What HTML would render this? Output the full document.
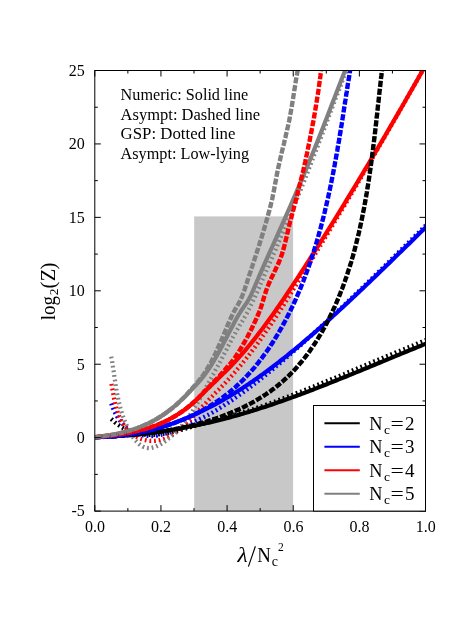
<!DOCTYPE html><html><head><meta charset="utf-8"><style>html,body{margin:0;padding:0;background:#fff}svg{display:block}text{font-family:"Liberation Serif",serif;fill:#000}</style></head><body>
<svg width="475" height="632" viewBox="0 0 475 632">
<rect width="475" height="632" fill="#fff"/>
<defs><clipPath id="c"><rect x="94.8" y="70.5" width="330.7" height="440.6"/></clipPath></defs>
<rect x="194.2" y="216.4" width="98.9" height="294.7" fill="#c8c8c8"/>
<g clip-path="url(#c)" fill="none" stroke-linejoin="round">
<path d="M111.2 418.9 112.5 420.1 113.8 421.2 115.0 422.4 116.3 423.4 117.6 424.4 118.9 425.3 120.2 426.2 121.5 427.0 122.8 427.8 124.2 428.6 125.5 429.3 126.8 429.9 128.2 430.5 129.5 431.1 130.8 431.6 132.2 432.1 133.5 432.5 134.9 432.9 136.2 433.2 137.6 433.6 138.9 433.9 140.3 434.1 141.7 434.3 143.1 434.5 144.4 434.6 145.8 434.7 147.2 434.8 148.6 434.9 150.0 434.9 151.3 434.9 152.8 434.8 154.2 434.8 155.6 434.7 156.9 434.6 158.4 434.4 159.8 434.2 161.2 434.1 162.6 433.9 164.0 433.6 165.4 433.4 166.8 433.1 168.3 432.9 169.7 432.6 171.1 432.3 172.5 431.9 174.0 431.6 175.4 431.3 176.8 430.9 178.3 430.6 179.7 430.2 181.2 429.8 182.6 429.4 184.0 429.0 185.5 428.6 186.9 428.2 188.4 427.8 189.8 427.4 191.2 427.0 192.7 426.6 194.2 426.1 195.6 425.7 197.1 425.3 198.5 424.9 199.9 424.5 201.4 424.1 202.8 423.7 204.3 423.3 205.8 422.9 207.2 422.5 208.7 422.1 210.1 421.6 211.6 421.2 213.0 420.9 214.5 420.5 215.9 420.1 217.4 419.7 218.8 419.3 220.3 418.9 221.7 418.5 223.2 418.1 224.6 417.7 226.1 417.3 227.5 416.9 229.0 416.5 230.4 416.1 231.9 415.6 233.3 415.2 234.8 414.8 236.2 414.4 237.6 414.0 239.1 413.5 240.5 413.1 241.9 412.7 243.4 412.2 244.8 411.8 246.2 411.3 247.7 410.9 249.1 410.4 250.5 410.0 251.9 409.5 253.4 409.1 254.8 408.6 256.2 408.1 257.6 407.6 259.1 407.1 260.5 406.7 261.9 406.2 263.3 405.7 264.7 405.2 266.1 404.7 267.6 404.2 269.0 403.7 270.4 403.2 271.8 402.7 273.2 402.2 274.6 401.7 276.0 401.1 277.4 400.6 278.8 400.1 280.2 399.6 281.6 399.1 283.0 398.5 284.4 398.0 285.9 397.5 287.2 396.9 288.6 396.4 290.1 395.9 291.4 395.3 292.8 394.8 294.2 394.2 295.6 393.7 297.0 393.1 298.4 392.6 299.8 392.0 301.2 391.5 302.6 390.9 304.0 390.4 305.4 389.8 306.8 389.3 308.2 388.7 309.6 388.2 311.0 387.6 312.4 387.1 313.8 386.5 315.1 385.9 316.5 385.4 317.9 384.8 319.3 384.2 320.7 383.7 322.1 383.1 323.5 382.5 324.9 382.0 326.3 381.4 327.6 380.8 329.0 380.3 330.4 379.7 331.8 379.1 333.2 378.6 334.6 378.0 336.0 377.4 337.4 376.8 338.7 376.3 340.1 375.7 341.5 375.1 342.9 374.5 344.3 374.0 345.7 373.4 347.1 372.8 348.4 372.2 349.8 371.7 351.2 371.1 352.6 370.5 354.0 369.9 355.4 369.4 356.8 368.8 358.1 368.2 359.5 367.6 360.9 367.0 362.3 366.4 363.7 365.9 365.1 365.3 366.4 364.7 367.8 364.1 369.2 363.6 370.6 363.0 372.0 362.4 373.4 361.8 374.7 361.2 376.1 360.7 377.5 360.1 378.9 359.5 380.3 358.9 381.7 358.4 383.1 357.8 384.4 357.2 385.8 356.6 387.2 356.0 388.6 355.5 390.0 354.9 391.4 354.3 392.7 353.7 394.1 353.2 395.5 352.6 396.9 352.0 398.3 351.4 399.7 350.9 401.1 350.3 402.4 349.7 403.8 349.2 405.2 348.6 406.6 348.0 408.0 347.4 409.4 346.9 410.8 346.3 412.2 345.8 413.6 345.2 414.9 344.6 416.3 344.1 417.7 343.5 419.1 342.9 420.5 342.4 421.9 341.8 423.3 341.3 424.7 340.7 426.1 340.1 427.5 339.6 428.9 339.0 430.2 338.5" stroke="#000000" stroke-width="4.3" stroke-dasharray="1.8 2.85"/>
<path d="M111.2 403.4 111.8 405.0 112.3 406.6 112.9 408.1 113.6 409.6 114.2 411.1 114.9 412.5 115.7 414.0 116.5 415.4 117.2 416.7 118.1 418.0 118.9 419.3 119.8 420.5 120.7 421.7 121.7 422.8 122.7 423.9 123.6 425.0 124.7 426.0 125.7 426.9 126.8 427.9 127.9 428.7 129.0 429.5 130.1 430.3 131.3 431.0 132.4 431.6 133.6 432.2 134.8 432.8 136.1 433.3 137.3 433.8 138.6 434.2 139.8 434.6 141.1 434.9 142.4 435.2 143.7 435.4 145.1 435.6 146.4 435.8 147.7 435.9 149.1 436.0 150.4 436.0 151.8 436.0 153.2 435.9 154.6 435.8 156.0 435.6 157.4 435.5 158.8 435.2 160.2 435.0 161.6 434.6 163.0 434.3 164.4 433.9 165.8 433.5 167.2 433.1 168.6 432.6 170.1 432.2 171.5 431.7 172.9 431.1 174.3 430.6 175.8 430.0 177.2 429.4 178.6 428.8 180.0 428.2 181.4 427.6 182.9 426.9 184.3 426.3 185.7 425.7 187.1 425.0 188.5 424.4 189.9 423.7 191.3 423.1 192.7 422.4 194.1 421.8 195.5 421.1 196.9 420.5 198.3 419.8 199.7 419.1 201.0 418.5 202.4 417.8 203.8 417.1 205.1 416.4 206.4 415.7 207.8 415.0 209.1 414.3 210.4 413.6 211.8 412.8 213.1 412.1 214.4 411.3 215.7 410.6 217.0 409.8 218.3 409.0 219.5 408.2 220.8 407.4 222.1 406.6 223.4 405.9 224.6 405.0 225.9 404.2 227.2 403.4 228.4 402.6 229.7 401.8 230.9 400.9 232.1 400.1 233.4 399.2 234.6 398.4 235.8 397.5 237.1 396.7 238.3 395.8 239.5 394.9 240.7 394.1 242.0 393.2 243.2 392.3 244.4 391.4 245.6 390.6 246.8 389.7 248.0 388.8 249.2 387.9 250.4 387.0 251.6 386.1 252.8 385.2 254.0 384.2 255.2 383.3 256.4 382.4 257.5 381.5 258.7 380.6 259.9 379.6 261.1 378.7 262.2 377.8 263.4 376.9 264.6 375.9 265.7 375.0 266.9 374.0 268.1 373.1 269.2 372.1 270.4 371.2 271.5 370.2 272.7 369.3 273.9 368.3 275.0 367.4 276.1 366.4 277.3 365.4 278.4 364.5 279.6 363.5 280.7 362.5 281.9 361.6 283.0 360.6 284.1 359.6 285.3 358.6 286.4 357.6 287.6 356.6 288.7 355.7 289.8 354.7 290.9 353.7 292.1 352.7 293.2 351.7 294.3 350.7 295.4 349.7 296.6 348.7 297.7 347.7 298.8 346.7 299.9 345.7 301.1 344.8 302.2 343.8 303.3 342.8 304.4 341.7 305.5 340.7 306.6 339.7 307.8 338.7 308.9 337.7 310.0 336.7 311.1 335.7 312.2 334.7 313.3 333.7 314.4 332.7 315.5 331.7 316.6 330.7 317.7 329.6 318.8 328.6 319.9 327.6 321.1 326.6 322.1 325.6 323.3 324.6 324.4 323.6 325.5 322.5 326.6 321.5 327.7 320.5 328.8 319.5 329.9 318.4 330.9 317.4 332.1 316.4 333.1 315.4 334.2 314.4 335.3 313.3 336.4 312.3 337.5 311.3 338.6 310.2 339.7 309.2 340.8 308.2 341.9 307.2 343.0 306.1 344.1 305.1 345.2 304.1 346.2 303.0 347.3 302.0 348.4 301.0 349.5 299.9 350.6 298.9 351.7 297.9 352.8 296.8 353.9 295.8 354.9 294.8 356.0 293.7 357.1 292.7 358.2 291.6 359.3 290.6 360.3 289.6 361.4 288.5 362.5 287.5 363.6 286.4 364.7 285.4 365.7 284.4 366.8 283.3 367.9 282.3 369.0 281.2 370.1 280.2 371.1 279.1 372.2 278.1 373.3 277.0 374.4 276.0 375.4 274.9 376.5 273.9 377.6 272.9 378.6 271.8 379.7 270.8 380.8 269.7 381.9 268.7 382.9 267.6 384.0 266.6 385.1 265.5 386.2 264.5 387.2 263.4 388.3 262.4 389.4 261.3 390.4 260.3 391.5 259.2 392.6 258.2 393.6 257.1 394.7 256.1 395.8 255.0 396.9 253.9 397.9 252.9 399.0 251.8 400.1 250.8 401.1 249.7 402.2 248.7 403.3 247.6 404.3 246.6 405.4 245.5 406.5 244.5 407.5 243.4 408.6 242.4 409.7 241.3 410.7 240.2 411.8 239.2 412.9 238.1 413.9 237.1 415.0 236.0 416.1 235.0 417.1 233.9 418.2 232.9 419.3 231.8 420.3 230.8 421.4 229.7 422.4 228.6 423.5 227.6 424.6 226.5 425.6 225.5 426.7 224.4 427.8 223.4 428.8 222.3 429.9 221.2" stroke="#0000ff" stroke-width="4.3" stroke-dasharray="1.8 2.85"/>
<path d="M111.5 383.9 111.7 385.2 112.0 386.7 112.2 388.1 112.5 389.6 112.8 391.0 113.0 392.5 113.3 394.0 113.6 395.6 113.8 397.1 114.1 398.6 114.5 400.1 114.8 401.7 115.1 403.2 115.5 404.8 115.9 406.3 116.3 407.8 116.7 409.4 117.2 410.9 117.7 412.4 118.2 413.9 118.8 415.3 119.3 416.8 120.0 418.2 120.6 419.6 121.3 420.9 122.1 422.3 122.8 423.6 123.7 424.8 124.5 426.1 125.4 427.2 126.4 428.4 127.4 429.5 128.4 430.6 129.4 431.6 130.5 432.6 131.6 433.5 132.8 434.4 133.9 435.2 135.1 436.0 136.3 436.7 137.6 437.4 138.8 438.0 140.1 438.6 141.4 439.1 142.7 439.5 144.0 439.9 145.3 440.2 146.7 440.5 148.0 440.7 149.4 440.8 150.7 440.9 152.1 440.9 153.4 440.9 154.8 440.8 156.2 440.6 157.5 440.4 158.8 440.2 160.2 439.9 161.5 439.5 162.8 439.1 164.1 438.7 165.4 438.2 166.7 437.7 167.9 437.1 169.2 436.5 170.4 435.8 171.6 435.1 172.8 434.4 174.0 433.6 175.2 432.9 176.4 432.0 177.6 431.2 178.7 430.3 179.8 429.4 181.0 428.5 182.1 427.5 183.2 426.5 184.4 425.5 185.5 424.5 186.6 423.4 187.7 422.4 188.8 421.3 189.8 420.2 190.9 419.1 192.0 418.0 193.1 416.9 194.1 415.7 195.2 414.6 196.3 413.4 197.3 412.3 198.4 411.1 199.4 410.0 200.5 408.8 201.6 407.7 202.6 406.5 203.7 405.4 204.7 404.2 205.8 403.1 206.8 401.9 207.9 400.8 208.9 399.7 210.0 398.6 211.1 397.5 212.1 396.4 213.2 395.3 214.2 394.2 215.3 393.1 216.4 392.0 217.4 391.0 218.5 389.9 219.5 388.8 220.6 387.7 221.6 386.6 222.7 385.6 223.7 384.5 224.7 383.4 225.8 382.3 226.8 381.2 227.8 380.1 228.8 379.0 229.8 377.9 230.8 376.8 231.8 375.7 232.8 374.6 233.8 373.5 234.8 372.3 235.8 371.2 236.7 370.1 237.7 368.9 238.7 367.8 239.6 366.6 240.6 365.5 241.5 364.4 242.5 363.2 243.4 362.0 244.3 360.9 245.3 359.7 246.2 358.5 247.1 357.4 248.1 356.2 249.0 355.0 249.9 353.8 250.8 352.6 251.7 351.4 252.6 350.2 253.5 349.1 254.4 347.9 255.3 346.6 256.2 345.4 257.1 344.2 257.9 343.0 258.8 341.8 259.7 340.6 260.6 339.4 261.4 338.2 262.3 336.9 263.1 335.7 264.0 334.5 264.9 333.2 265.7 332.0 266.6 330.8 267.4 329.6 268.3 328.3 269.1 327.1 269.9 325.8 270.8 324.6 271.6 323.3 272.4 322.1 273.3 320.8 274.1 319.6 274.9 318.3 275.8 317.1 276.6 315.8 277.4 314.6 278.2 313.3 279.0 312.1 279.9 310.8 280.7 309.5 281.5 308.3 282.3 307.0 283.1 305.7 283.9 304.5 284.7 303.2 285.5 301.9 286.3 300.7 287.1 299.4 287.9 298.1 288.7 296.9 289.5 295.6 290.3 294.3 291.1 293.0 291.9 291.8 292.7 290.5 293.5 289.2 294.3 287.9 295.1 286.7 295.9 285.4 296.7 284.1 297.5 282.8 298.3 281.6 299.1 280.3 299.9 279.0 300.6 277.7 301.4 276.4 302.2 275.2 303.0 273.9 303.8 272.6 304.6 271.3 305.4 270.1 306.2 268.8 307.0 267.5 307.8 266.2 308.5 264.9 309.3 263.7 310.1 262.4 310.9 261.1 311.7 259.8 312.5 258.6 313.2 257.3 314.0 256.0 314.8 254.7 315.6 253.4 316.4 252.2 317.2 250.9 317.9 249.6 318.7 248.3 319.5 247.0 320.3 245.7 321.1 244.5 321.9 243.2 322.6 241.9 323.4 240.6 324.2 239.3 325.0 238.1 325.7 236.8 326.5 235.5 327.3 234.2 328.1 232.9 328.8 231.6 329.6 230.3 330.4 229.1 331.2 227.8 331.9 226.5 332.7 225.2 333.5 223.9 334.3 222.6 335.0 221.3 335.8 220.1 336.6 218.8 337.3 217.5 338.1 216.2 338.9 214.9 339.6 213.6 340.4 212.3 341.2 211.1 342.0 209.8 342.7 208.5 343.5 207.2 344.3 205.9 345.0 204.6 345.8 203.3 346.6 202.1 347.3 200.8 348.1 199.5 348.9 198.2 349.6 196.9 350.4 195.6 351.2 194.3 351.9 193.0 352.7 191.7 353.4 190.4 354.2 189.2 355.0 187.9 355.7 186.6 356.5 185.3 357.3 184.0 358.0 182.7 358.8 181.4 359.5 180.1 360.3 178.8 361.1 177.5 361.8 176.2 362.6 174.9 363.3 173.7 364.1 172.4 364.9 171.1 365.6 169.8 366.4 168.5 367.1 167.2 367.9 165.9 368.6 164.6 369.4 163.3 370.1 162.0 370.9 160.7 371.7 159.4 372.4 158.1 373.2 156.8 373.9 155.5 374.7 154.2 375.4 152.9 376.2 151.7 376.9 150.3 377.7 149.1 378.4 147.8 379.2 146.5 379.9 145.2 380.7 143.9 381.5 142.6 382.2 141.3 383.0 140.0 383.7 138.7 384.5 137.4 385.2 136.1 386.0 134.8 386.7 133.5 387.5 132.2 388.2 130.9 389.0 129.6 389.7 128.3 390.5 127.0 391.2 125.7 391.9 124.4 392.7 123.1 393.4 121.8 394.2 120.5 394.9 119.2 395.7 117.9 396.4 116.6 397.2 115.3 397.9 114.0 398.7 112.7 399.4 111.4 400.2 110.1 400.9 108.8 401.7 107.5 402.4 106.2 403.1 104.9 403.9 103.6 404.6 102.3 405.4 101.0 406.1 99.7 406.9 98.3 407.6 97.0 408.4 95.7 409.1 94.4 409.8 93.1 410.6 91.8 411.3 90.5 412.1 89.2 412.8 87.9 413.6 86.6 414.3 85.3 415.0 84.0 415.8 82.7 416.5 81.4 417.2 80.1 418.0 78.8 418.7 77.5 419.5 76.2 420.2 74.8 420.9 73.5 421.7 72.2 422.4 70.9 423.2 69.6 423.9 68.3 424.6 67.0 425.4 65.7 426.1 64.4 426.9 63.1 427.6 61.8 428.3 60.5 429.1 59.1 429.8 57.8 430.6 56.5" stroke="#ff0000" stroke-width="4.3" stroke-dasharray="1.8 2.85"/>
<path d="M111.3 356.6 111.5 358.1 111.8 359.6 112.1 361.1 112.3 362.6 112.5 364.1 112.8 365.5 113.0 367.0 113.2 368.5 113.5 370.0 113.7 371.5 113.9 372.9 114.1 374.4 114.3 375.9 114.5 377.4 114.7 378.8 115.0 380.3 115.2 381.8 115.4 383.2 115.6 384.7 115.8 386.1 116.1 387.6 116.3 389.1 116.6 390.5 116.8 392.0 117.1 393.4 117.4 394.9 117.7 396.3 118.0 397.8 118.3 399.2 118.6 400.7 118.9 402.1 119.3 403.6 119.7 405.1 120.0 406.5 120.4 408.0 120.8 409.4 121.3 410.9 121.7 412.4 122.2 413.9 122.7 415.3 123.2 416.8 123.8 418.3 124.3 419.8 124.9 421.3 125.5 422.8 126.1 424.2 126.8 425.7 127.5 427.2 128.2 428.7 128.9 430.2 129.7 431.6 130.4 433.0 131.2 434.4 132.1 435.7 132.9 437.0 133.8 438.3 134.7 439.5 135.7 440.6 136.6 441.7 137.6 442.7 138.6 443.6 139.6 444.5 140.7 445.3 141.8 446.0 142.9 446.6 144.0 447.1 145.1 447.5 146.3 447.8 147.5 448.0 148.8 448.1 150.0 448.0 151.3 447.9 152.6 447.6 153.9 447.3 155.2 446.9 156.5 446.3 157.8 445.7 159.2 445.1 160.5 444.3 161.8 443.5 163.1 442.7 164.5 441.8 165.8 440.8 167.1 439.8 168.3 438.8 169.6 437.8 170.8 436.7 172.0 435.7 173.2 434.6 174.3 433.5 175.5 432.4 176.6 431.3 177.7 430.2 178.7 429.1 179.7 427.9 180.8 426.8 181.8 425.7 182.7 424.5 183.7 423.4 184.6 422.2 185.5 421.0 186.4 419.8 187.3 418.6 188.2 417.4 189.0 416.2 189.8 415.0 190.7 413.8 191.5 412.6 192.3 411.4 193.1 410.2 193.8 408.9 194.6 407.7 195.4 406.4 196.1 405.2 196.9 403.9 197.6 402.7 198.3 401.4 199.1 400.1 199.8 398.9 200.5 397.6 201.2 396.3 201.9 395.0 202.7 393.7 203.4 392.4 204.1 391.1 204.8 389.9 205.5 388.6 206.2 387.2 206.9 385.9 207.7 384.6 208.4 383.3 209.1 382.0 209.8 380.7 210.5 379.4 211.2 378.1 211.9 376.8 212.6 375.4 213.4 374.1 214.1 372.8 214.8 371.5 215.5 370.1 216.2 368.8 217.0 367.5 217.7 366.2 218.4 364.8 219.2 363.5 219.9 362.2 220.6 360.9 221.3 359.6 222.0 358.2 222.7 356.9 223.4 355.6 224.0 354.3 224.7 352.9 225.4 351.6 226.1 350.3 226.8 349.0 227.4 347.7 228.1 346.3 228.8 345.0 229.5 343.7 230.2 342.4 230.9 341.1 231.6 339.8 232.3 338.4 233.0 337.1 233.7 335.8 234.4 334.5 235.2 333.2 235.9 331.8 236.7 330.5 237.5 329.2 238.3 327.9 239.1 326.6 239.8 325.2 240.6 323.9 241.4 322.6 242.2 321.3 243.0 319.9 243.8 318.6 244.5 317.3 245.3 315.9 246.0 314.6 246.8 313.3 247.5 312.0 248.2 310.6 248.9 309.3 249.6 308.0 250.3 306.6 250.9 305.3 251.6 303.9 252.3 302.6 252.9 301.3 253.5 299.9 254.2 298.6 254.8 297.2 255.4 295.9 256.0 294.6 256.6 293.2 257.2 291.9 257.8 290.5 258.4 289.1 259.0 287.8 259.5 286.4 260.1 285.1 260.7 283.7 261.3 282.4 261.9 281.0 262.5 279.7 263.1 278.3 263.7 277.0 264.2 275.6 264.9 274.2 265.4 272.9 266.0 271.5 266.6 270.2 267.2 268.8 267.8 267.4 268.4 266.1 269.0 264.7 269.6 263.3 270.2 262.0 270.8 260.6 271.4 259.2 272.0 257.9 272.6 256.5 273.2 255.1 273.8 253.7 274.4 252.4 275.0 251.0 275.6 249.6 276.1 248.2 276.8 246.9 277.3 245.5 277.9 244.1 278.5 242.7 279.1 241.3 279.7 240.0 280.3 238.6 280.9 237.2 281.5 235.8 282.1 234.4 282.7 233.1 283.3 231.7 283.9 230.3 284.4 228.9 285.0 227.5 285.6 226.2 286.2 224.8 286.8 223.4 287.4 222.0 287.9 220.6 288.5 219.2 289.1 217.8 289.7 216.4 290.3 215.0 290.9 213.7 291.4 212.3 292.0 210.9 292.6 209.5 293.2 208.1 293.7 206.7 294.3 205.3 294.9 203.9 295.5 202.5 296.0 201.1 296.6 199.7 297.2 198.3 297.7 196.9 298.3 195.5 298.9 194.1 299.4 192.8 300.0 191.3 300.6 189.9 301.1 188.6 301.7 187.2 302.2 185.8 302.8 184.4 303.4 183.0 303.9 181.6 304.5 180.2 305.0 178.8 305.6 177.4 306.1 176.0 306.7 174.6 307.2 173.2 307.8 171.8 308.3 170.4 308.9 169.0 309.4 167.6 309.9 166.2 310.5 164.8 311.0 163.4 311.6 161.9 312.1 160.6 312.6 159.2 313.2 157.8 313.7 156.3 314.3 154.9 314.8 153.5 315.3 152.1 315.9 150.7 316.4 149.3 316.9 147.9 317.5 146.5 318.0 145.1 318.5 143.7 319.1 142.3 319.6 140.9 320.1 139.5 320.7 138.1 321.2 136.7 321.7 135.3 322.3 133.9 322.8 132.5 323.3 131.1 323.9 129.7 324.4 128.3 324.9 126.9 325.4 125.5 326.0 124.1 326.5 122.7 327.0 121.3 327.6 119.9 328.1 118.5 328.6 117.1 329.1 115.7 329.7 114.3 330.2 112.9 330.7 111.5 331.3 110.1 331.8 108.7 332.3 107.3 332.9 105.9 333.4 104.5 333.9 103.1 334.5 101.7 335.0 100.3 335.5 98.9 336.1 97.5 336.6 96.1 337.1 94.7 337.7 93.3 338.2 91.9 338.7 90.5 339.3 89.1 339.8 87.7 340.3 86.3 340.9 84.9 341.4 83.5 341.9 82.1 342.5 80.7 343.0 79.3 343.6 77.9 344.1 76.5 344.7 75.2 345.2 73.8 345.8 72.4 346.3 71.0 346.8 69.6 347.4 68.2 347.9 66.8 348.5 65.4 349.0 64.0 349.6 62.6 350.1 61.2 350.7 59.9 351.2 58.5 351.8 57.1 352.4 55.7 352.9 54.3" stroke="#808080" stroke-width="4.3" stroke-dasharray="1.8 2.85"/>
<path d="M94.8 437.1 96.8 437.1 98.8 437.0 100.8 436.9 102.8 436.8 104.8 436.7 106.8 436.6 108.8 436.5 110.8 436.4 112.8 436.3 114.8 436.2 116.8 436.0 118.8 435.9 120.8 435.8 122.8 435.6 124.8 435.4 126.8 435.3 128.8 435.1 130.8 434.9 132.8 434.8 134.8 434.6 136.8 434.4 138.8 434.1 140.8 433.9 142.8 433.7 144.8 433.5 146.8 433.3 148.8 433.0 150.8 432.8 152.8 432.5 154.8 432.3 156.8 432.0 158.8 431.7 160.8 431.4 162.8 431.2 164.8 430.9 166.8 430.6 168.8 430.3 170.8 429.9 172.8 429.6 174.8 429.3 176.8 428.9 178.8 428.6 180.8 428.3 182.8 427.9 184.8 427.5 186.8 427.2 188.8 426.8 190.8 426.4 192.8 426.0 194.8 425.6 196.8 425.2 198.8 424.8 200.8 424.3 202.8 423.9 204.8 423.5 206.8 423.0 208.8 422.6 210.8 422.1 212.8 421.6 214.8 421.2 216.8 420.7 218.8 420.2 220.8 419.7 222.8 419.2 224.8 418.7 226.8 418.1 228.8 417.6 230.8 417.1 232.8 416.5 234.8 416.0 236.8 415.4 238.8 414.9 240.8 414.3 242.8 413.7 244.8 413.1 246.8 412.5 248.8 411.9 250.8 411.3 252.8 410.7 254.8 410.1 256.8 409.4 258.8 408.8 260.8 408.1 262.8 407.5 264.8 406.9 266.8 406.2 268.8 405.5 270.8 404.9 272.8 404.2 274.8 403.5 276.8 402.8 278.8 402.1 280.8 401.4 282.8 400.7 284.8 400.0 286.8 399.3 288.8 398.6 290.8 397.9 292.8 397.1 294.8 396.4 296.8 395.7 298.8 394.9 300.8 394.2 302.8 393.4 304.8 392.7 306.8 391.9 308.8 391.2 310.8 390.4 312.8 389.7 314.8 388.9 316.8 388.1 318.8 387.3 320.8 386.6 322.8 385.8 324.8 385.0 326.8 384.2 328.8 383.4 330.8 382.6 332.8 381.8 334.8 381.0 336.8 380.2 338.8 379.4 340.8 378.6 342.8 377.8 344.8 377.0 346.8 376.2 348.8 375.4 350.8 374.6 352.8 373.7 354.8 372.9 356.8 372.1 358.8 371.3 360.8 370.5 362.8 369.6 364.8 368.8 366.8 368.0 368.8 367.2 370.8 366.3 372.8 365.5 374.8 364.7 376.8 363.9 378.8 363.0 380.8 362.2 382.8 361.4 384.8 360.6 386.8 359.7 388.8 358.9 390.8 358.1 392.8 357.2 394.8 356.4 396.8 355.6 398.8 354.8 400.8 353.9 402.8 353.1 404.8 352.3 406.8 351.5 408.8 350.6 410.8 349.8 412.8 349.0 414.8 348.2 416.8 347.4 418.8 346.6 420.8 345.8 422.8 344.9 424.8 344.1 426.8 343.3 428.8 342.5" stroke="#000000" stroke-width="4.2"/>
<path d="M94.8 437.1 96.8 437.1 98.8 437.1 100.8 437.0 102.8 437.0 104.8 436.9 106.8 436.8 108.8 436.7 110.8 436.6 112.8 436.4 114.8 436.3 116.8 436.1 118.8 435.9 120.8 435.7 122.8 435.4 124.8 435.2 126.8 434.9 128.8 434.6 130.8 434.3 132.8 433.9 134.8 433.6 136.8 433.2 138.8 432.8 140.8 432.4 142.8 432.0 144.8 431.5 146.8 431.1 148.8 430.6 150.8 430.1 152.8 429.6 154.8 429.0 156.8 428.5 158.8 427.9 160.8 427.3 162.8 426.7 164.8 426.1 166.8 425.4 168.8 424.8 170.8 424.1 172.8 423.4 174.8 422.6 176.8 421.9 178.8 421.1 180.8 420.4 182.8 419.6 184.8 418.8 186.8 417.9 188.8 417.1 190.8 416.2 192.8 415.4 194.8 414.5 196.8 413.6 198.8 412.6 200.8 411.7 202.8 410.7 204.8 409.7 206.8 408.7 208.8 407.7 210.8 406.7 212.8 405.6 214.8 404.6 216.8 403.5 218.8 402.4 220.8 401.3 222.8 400.1 224.8 399.0 226.8 397.8 228.8 396.6 230.8 395.4 232.8 394.2 234.8 393.0 236.8 391.7 238.8 390.5 240.8 389.2 242.8 387.9 244.8 386.6 246.8 385.2 248.8 383.9 250.8 382.5 252.8 381.2 254.8 379.8 256.8 378.4 258.8 377.0 260.8 375.5 262.8 374.1 264.8 372.6 266.8 371.2 268.8 369.7 270.8 368.2 272.8 366.7 274.8 365.1 276.8 363.6 278.8 362.1 280.8 360.5 282.8 358.9 284.8 357.4 286.8 355.8 288.8 354.1 290.8 352.5 292.8 350.9 294.8 349.3 296.8 347.6 298.8 346.0 300.8 344.3 302.8 342.6 304.8 340.9 306.8 339.2 308.8 337.5 310.8 335.8 312.8 334.1 314.8 332.3 316.8 330.6 318.8 328.8 320.8 327.1 322.8 325.3 324.8 323.5 326.8 321.7 328.8 319.9 330.8 318.1 332.8 316.3 334.8 314.5 336.8 312.7 338.8 310.8 340.8 309.0 342.8 307.2 344.8 305.3 346.8 303.4 348.8 301.6 350.8 299.7 352.8 297.8 354.8 296.0 356.8 294.1 358.8 292.2 360.8 290.3 362.8 288.4 364.8 286.5 366.8 284.6 368.8 282.7 370.8 280.8 372.8 278.8 374.8 276.9 376.8 275.0 378.8 273.1 380.8 271.1 382.8 269.2 384.8 267.3 386.8 265.3 388.8 263.4 390.8 261.4 392.8 259.5 394.8 257.5 396.8 255.6 398.8 253.6 400.8 251.7 402.8 249.7 404.8 247.8 406.8 245.8 408.8 243.9 410.8 241.9 412.8 240.0 414.8 238.0 416.8 236.1 418.8 234.1 420.8 232.1 422.8 230.2 424.8 228.2 426.8 226.3 428.8 224.3" stroke="#0000ff" stroke-width="4.2"/>
<path d="M94.8 437.2 96.8 437.0 98.8 436.8 100.8 436.6 102.8 436.4 104.8 436.2 106.8 435.9 108.8 435.7 110.8 435.5 112.8 435.2 114.8 435.0 116.8 434.7 118.8 434.5 120.8 434.2 122.8 433.9 124.8 433.6 126.8 433.2 128.8 432.9 130.8 432.5 132.8 432.1 134.8 431.6 136.8 431.2 138.8 430.7 140.8 430.2 142.8 429.7 144.8 429.1 146.8 428.6 148.8 427.9 150.8 427.3 152.8 426.6 154.8 425.9 156.8 425.1 158.8 424.3 160.8 423.4 162.8 422.5 164.8 421.6 166.8 420.6 168.8 419.6 170.8 418.5 172.8 417.4 174.8 416.3 176.8 415.0 178.8 413.8 180.8 412.4 182.8 411.1 184.8 409.6 186.8 408.1 188.8 406.5 190.8 404.9 192.8 403.2 194.8 401.4 196.8 399.5 198.8 397.6 200.8 395.6 202.8 393.6 204.8 391.6 206.8 389.6 208.8 387.7 210.8 385.7 212.8 383.8 214.8 381.9 216.8 379.9 218.8 378.0 220.8 376.1 222.8 374.1 224.8 372.2 226.8 370.2 228.8 368.2 230.8 366.2 232.8 364.1 234.8 362.0 236.8 359.8 238.8 357.6 240.8 355.4 242.8 353.1 244.8 350.8 246.8 348.4 248.8 346.0 250.8 343.6 252.8 341.1 254.8 338.6 256.8 336.0 258.8 333.4 260.8 330.8 262.8 328.2 264.8 325.5 266.8 322.8 268.8 320.0 270.8 317.3 272.8 314.5 274.8 311.7 276.8 308.8 278.8 305.9 280.8 303.0 282.8 300.1 284.8 297.2 286.8 294.2 288.8 291.2 290.8 288.2 292.8 285.2 294.8 282.2 296.8 279.2 298.8 276.1 300.8 273.0 302.8 269.9 304.8 266.8 306.8 263.7 308.8 260.6 310.8 257.5 312.8 254.3 314.8 251.2 316.8 248.0 318.8 244.9 320.8 241.7 322.8 238.5 324.8 235.3 326.8 232.1 328.8 228.9 330.8 225.7 332.8 222.5 334.8 219.3 336.8 216.0 338.8 212.8 340.8 209.5 342.8 206.3 344.8 203.0 346.8 199.7 348.8 196.4 350.8 193.2 352.8 189.9 354.8 186.6 356.8 183.2 358.8 179.9 360.8 176.6 362.8 173.3 364.8 169.9 366.8 166.6 368.8 163.2 370.8 159.9 372.8 156.5 374.8 153.1 376.8 149.8 378.8 146.4 380.8 143.0 382.8 139.6 384.8 136.2 386.8 132.8 388.8 129.3 390.8 125.9 392.8 122.5 394.8 119.0 396.8 115.6 398.8 112.1 400.8 108.7 402.8 105.2 404.8 101.7 406.8 98.3 408.8 94.8 410.8 91.3 412.8 87.8 414.8 84.3 416.8 80.8 418.8 77.3 420.8 73.8 422.8 70.2 424.8 66.7 426.8 63.2 428.8 59.6" stroke="#ff0000" stroke-width="4.2"/>
<path d="M94.8 437.2 96.8 437.0 98.8 436.8 100.8 436.5 102.8 436.2 104.8 435.9 106.8 435.6 108.8 435.3 110.8 435.0 112.8 434.6 114.8 434.3 116.8 433.9 118.8 433.4 120.8 433.0 122.8 432.5 124.8 432.0 126.8 431.5 128.8 430.9 130.8 430.3 132.8 429.6 134.8 429.0 136.8 428.3 138.8 427.5 140.8 426.7 142.8 425.9 144.8 425.0 146.8 424.1 148.8 423.2 150.8 422.2 152.8 421.1 154.8 420.0 156.8 418.9 158.8 417.6 160.8 416.4 162.8 415.1 164.8 413.7 166.8 412.3 168.8 410.8 170.8 409.3 172.8 407.7 174.8 406.0 176.8 404.3 178.8 402.5 180.8 400.6 182.8 398.7 184.8 396.8 186.8 394.7 188.8 392.6 190.8 390.5 192.8 388.4 194.8 386.2 196.8 384.1 198.8 381.8 200.8 379.5 202.8 377.1 204.8 374.6 206.8 371.8 208.8 369.0 210.8 365.9 212.8 362.7 214.8 359.3 216.8 355.8 218.8 352.2 220.8 348.5 222.8 344.8 224.8 340.9 226.8 337.0 228.8 333.1 230.8 329.2 232.8 325.4 234.8 321.6 236.8 318.0 238.8 314.5 240.8 311.3 242.8 308.4 244.8 305.5 246.8 302.6 248.8 299.2 250.8 295.4 252.8 291.0 254.8 286.4 256.8 281.7 258.8 277.0 260.8 272.4 262.8 267.8 264.8 263.3 266.8 258.9 268.8 254.4 270.8 249.9 272.8 245.5 274.8 241.0 276.8 236.6 278.8 232.1 280.8 227.6 282.8 223.1 284.8 218.6 286.8 214.1 288.8 209.5 290.8 205.0 292.8 200.4 294.8 195.8 296.8 191.2 298.8 186.5 300.8 181.8 302.8 177.1 304.8 172.3 306.8 167.6 308.8 162.8 310.8 157.9 312.8 153.0 314.8 148.1 316.8 143.1 318.8 138.1 320.8 133.0 322.8 127.9 324.8 122.8 326.8 117.7 328.8 112.5 330.8 107.3 332.8 102.1 334.8 96.9 336.8 91.7 338.8 86.6 340.8 81.4 342.8 76.3 344.8 71.2 346.8 66.1 348.8 61.0 350.8 56.0" stroke="#808080" stroke-width="4.2"/>
<path d="M95.0 437.2 96.9 437.1 98.9 437.0 100.9 436.9 102.8 436.8 104.8 436.7 106.8 436.6 108.8 436.5 110.8 436.4 112.7 436.2 114.7 436.1 116.7 436.0 118.7 435.9 120.7 435.7 122.7 435.6 124.7 435.4 126.7 435.3 128.7 435.1 130.6 435.0 132.6 434.8 134.6 434.6 136.6 434.4 138.6 434.2 140.6 434.0 142.6 433.8 144.6 433.6 146.6 433.4 148.6 433.1 150.6 432.9 152.6 432.6 154.6 432.4 156.6 432.1 158.6 431.8 160.6 431.5 162.6 431.2 164.6 430.9 166.6 430.6 168.6 430.2 170.6 429.9 172.6 429.5 174.6 429.1 176.6 428.8 178.6 428.4 180.5 427.9 182.5 427.5 184.5 427.1 186.5 426.7 188.5 426.2 190.4 425.7 192.4 425.3 194.4 424.8 196.3 424.3 198.3 423.8 200.2 423.2 202.2 422.7 204.2 422.1 206.1 421.6 208.0 421.0 209.9 420.4 211.9 419.8 213.8 419.1 215.7 418.5 217.6 417.9 219.5 417.2 221.4 416.5 223.3 415.8 225.1 415.1 227.0 414.4 228.9 413.6 230.7 412.9 232.6 412.1 234.4 411.3 236.2 410.5 238.0 409.7 239.8 408.9 241.6 408.1 243.4 407.2 245.2 406.3 246.9 405.4 248.7 404.5 250.4 403.6 252.2 402.6 253.9 401.7 255.6 400.7 257.3 399.7 259.0 398.7 260.6 397.7 262.3 396.7 263.9 395.6 265.6 394.5 267.2 393.4 268.8 392.3 270.4 391.2 271.9 390.0 273.5 388.9 275.1 387.7 276.6 386.5 278.1 385.3 279.6 384.0 281.1 382.8 282.6 381.5 284.0 380.2 285.4 378.9 286.9 377.6 288.3 376.2 289.6 374.9 291.0 373.5 292.4 372.1 293.7 370.7 295.1 369.2 296.4 367.8 297.7 366.3 298.9 364.8 300.2 363.3 301.5 361.8 302.7 360.3 303.9 358.8 305.1 357.2 306.3 355.6 307.5 354.1 308.7 352.5 309.8 350.9 310.9 349.3 312.1 347.6 313.2 346.0 314.3 344.3 315.4 342.7 316.4 341.0 317.5 339.3 318.5 337.6 319.5 335.9 320.6 334.2 321.6 332.5 322.6 330.8 323.5 329.0 324.5 327.3 325.4 325.5 326.4 323.8 327.3 322.0 328.2 320.2 329.1 318.4 330.0 316.6 330.9 314.8 331.8 313.0 332.6 311.2 333.4 309.4 334.3 307.6 335.1 305.8 335.9 303.9 336.7 302.1 337.5 300.2 338.3 298.4 339.0 296.5 339.8 294.7 340.5 292.8 341.2 290.9 342.0 289.1 342.7 287.2 343.4 285.3 344.1 283.4 344.8 281.5 345.4 279.6 346.1 277.7 346.8 275.8 347.4 273.9 348.0 271.9 348.6 270.0 349.3 268.1 349.9 266.1 350.5 264.2 351.1 262.3 351.6 260.3 352.2 258.4 352.8 256.4 353.3 254.5 353.9 252.5 354.4 250.6 354.9 248.6 355.4 246.6 355.9 244.6 356.4 242.7 356.9 240.7 357.4 238.7 357.9 236.7 358.4 234.7 358.9 232.8 359.3 230.8 359.8 228.8 360.2 226.8 360.6 224.8 361.1 222.8 361.5 220.8 361.9 218.8 362.3 216.8 362.7 214.8 363.1 212.7 363.5 210.7 363.9 208.7 364.3 206.7 364.6 204.7 365.0 202.7 365.4 200.7 365.7 198.6 366.1 196.6 366.4 194.6 366.8 192.6 367.1 190.6 367.4 188.5 367.8 186.5 368.1 184.5 368.4 182.5 368.7 180.5 369.0 178.4 369.3 176.4 369.6 174.4 369.9 172.4 370.2 170.3 370.5 168.3 370.8 166.3 371.0 164.3 371.3 162.3 371.6 160.2 371.9 158.2 372.1 156.2 372.4 154.2 372.6 152.2 372.9 150.2 373.1 148.2 373.4 146.2 373.6 144.2 373.9 142.1 374.1 140.1 374.4 138.1 374.6 136.1 374.8 134.1 375.1 132.1 375.3 130.1 375.5 128.2 375.7 126.2 376.0 124.2 376.2 122.2 376.4 120.2 376.6 118.2 376.9 116.2 377.1 114.3 377.3 112.3 377.5 110.3 377.7 108.4 377.9 106.4 378.1 104.5 378.4 102.5 378.6 100.6 378.8 98.6 379.0 96.7 379.2 94.7 379.4 92.8 379.6 90.9 379.9 88.9 380.1 87.0 380.3 85.1 380.5 83.2 380.7 81.3 380.9 79.4 381.1 77.5 381.4 75.6 381.6 73.7 381.8 71.8 382.0 69.9 382.2 68.0 382.5 66.2 382.7 64.3 382.9 62.5 383.1 60.6 383.4 58.8 383.6 56.9" stroke="#000000" stroke-width="4.4" stroke-dasharray="6.2 1.75"/>
<path d="M94.9 437.2 96.9 437.2 98.8 437.1 100.8 437.1 102.8 437.0 104.8 436.9 106.8 436.8 108.8 436.7 110.7 436.5 112.7 436.4 114.7 436.2 116.7 436.0 118.7 435.8 120.7 435.6 122.7 435.4 124.7 435.1 126.6 434.8 128.6 434.6 130.6 434.2 132.6 433.9 134.6 433.6 136.5 433.2 138.5 432.9 140.5 432.5 142.4 432.1 144.4 431.6 146.4 431.2 148.3 430.8 150.3 430.3 152.2 429.8 154.2 429.3 156.1 428.8 158.0 428.2 160.0 427.7 161.9 427.1 163.8 426.5 165.7 425.9 167.6 425.3 169.5 424.7 171.4 424.0 173.3 423.4 175.2 422.7 177.0 422.0 178.9 421.2 180.8 420.5 182.6 419.8 184.4 419.0 186.3 418.2 188.1 417.4 189.9 416.6 191.7 415.7 193.5 414.9 195.3 414.0 197.0 413.1 198.8 412.2 200.6 411.3 202.3 410.4 204.0 409.4 205.8 408.4 207.4 407.4 209.2 406.4 210.8 405.4 212.5 404.3 214.2 403.3 215.8 402.2 217.5 401.1 219.1 400.0 220.7 398.9 222.3 397.7 223.9 396.5 225.4 395.3 227.0 394.1 228.6 392.9 230.1 391.7 231.6 390.4 233.1 389.1 234.6 387.9 236.0 386.6 237.5 385.2 238.9 383.9 240.4 382.5 241.8 381.1 243.2 379.8 244.6 378.4 245.9 376.9 247.3 375.5 248.6 374.0 250.0 372.6 251.3 371.1 252.6 369.6 253.9 368.1 255.2 366.6 256.4 365.0 257.7 363.5 258.9 361.9 260.1 360.3 261.4 358.8 262.6 357.1 263.7 355.5 264.9 353.9 266.1 352.3 267.2 350.6 268.4 349.0 269.5 347.3 270.6 345.6 271.7 344.0 272.8 342.3 273.9 340.6 274.9 338.9 276.0 337.1 277.0 335.4 278.1 333.7 279.1 331.9 280.1 330.2 281.1 328.4 282.1 326.6 283.0 324.9 284.0 323.1 285.0 321.3 285.9 319.5 286.8 317.7 287.8 315.9 288.7 314.1 289.6 312.3 290.5 310.5 291.3 308.7 292.2 306.9 293.1 305.1 293.9 303.2 294.8 301.4 295.6 299.6 296.4 297.7 297.2 295.9 298.0 294.0 298.8 292.2 299.6 290.3 300.4 288.5 301.1 286.6 301.9 284.7 302.6 282.9 303.4 281.0 304.1 279.1 304.8 277.2 305.5 275.4 306.2 273.5 306.9 271.6 307.6 269.7 308.3 267.8 309.0 265.9 309.6 264.0 310.3 262.1 310.9 260.2 311.6 258.3 312.2 256.4 312.8 254.4 313.4 252.5 314.1 250.6 314.6 248.7 315.2 246.8 315.8 244.8 316.4 242.9 317.0 241.0 317.5 239.0 318.1 237.1 318.6 235.2 319.2 233.2 319.7 231.3 320.3 229.3 320.8 227.4 321.3 225.4 321.8 223.5 322.3 221.5 322.8 219.6 323.3 217.6 323.8 215.7 324.3 213.7 324.8 211.8 325.2 209.8 325.7 207.8 326.2 205.9 326.6 203.9 327.1 201.9 327.5 200.0 328.0 198.0 328.4 196.0 328.8 194.1 329.3 192.1 329.7 190.1 330.1 188.1 330.5 186.2 330.9 184.2 331.3 182.2 331.7 180.2 332.1 178.3 332.5 176.3 332.9 174.3 333.3 172.3 333.7 170.3 334.0 168.4 334.4 166.4 334.8 164.4 335.1 162.4 335.5 160.5 335.9 158.5 336.2 156.5 336.6 154.5 336.9 152.5 337.3 150.6 337.6 148.6 337.9 146.6 338.3 144.6 338.6 142.7 339.0 140.7 339.3 138.7 339.6 136.7 339.9 134.8 340.3 132.8 340.6 130.8 340.9 128.8 341.2 126.9 341.6 124.9 341.9 122.9 342.2 121.0 342.5 119.0 342.8 117.0 343.1 115.1 343.4 113.1 343.7 111.2 344.0 109.2 344.3 107.2 344.6 105.3 344.9 103.3 345.2 101.4 345.6 99.4 345.9 97.5 346.1 95.5 346.4 93.6 346.8 91.6 347.1 89.7 347.4 87.7 347.6 85.8 347.9 83.9 348.2 81.9 348.6 80.0 348.9 78.1 349.2 76.1 349.5 74.2 349.8 72.3 350.1 70.4 350.4 68.5 350.7 66.5 351.0 64.6 351.3 62.7 351.6 60.8 351.9 58.9" stroke="#0000ff" stroke-width="4.4" stroke-dasharray="6.2 1.75"/>
<path d="M94.8 437.2 96.8 437.0 98.8 436.8 100.8 436.6 102.8 436.4 104.8 436.2 106.8 435.9 108.8 435.7 110.8 435.5 112.8 435.2 114.8 435.0 116.8 434.7 118.8 434.5 120.8 434.2 122.8 433.9 124.8 433.6 126.8 433.2 128.8 432.9 130.8 432.5 132.8 432.1 134.8 431.6 136.8 431.2 138.8 430.7 140.8 430.2 142.8 429.7 144.8 429.1 146.8 428.6 148.8 427.9 150.8 427.3 152.8 426.6 154.8 425.9 156.8 425.1 158.8 424.3 160.8 423.4 162.8 422.5 164.8 421.6 166.8 420.6 168.8 419.6 170.8 418.5 172.8 417.4 174.8 416.3 176.8 415.0 178.8 413.8 180.8 412.4 182.8 411.1 184.3 410.0 186.9 408.0 189.4 406.0 191.8 404.0 194.0 402.0 196.1 400.0 198.2 398.0 200.1 396.0 202.1 394.0 204.0 392.0 205.9 390.0 207.9 388.0 209.8 386.0 211.8 384.0 213.7 382.0 215.6 380.0 217.5 378.0 219.4 376.0 221.2 374.0 223.0 372.0 224.8 370.0 226.5 368.0 228.2 366.0 229.9 364.0 231.5 362.0 233.1 360.0 234.6 358.0 236.0 356.0 237.3 354.0 238.6 352.0 239.9 350.0 241.1 348.0 242.3 346.0 243.4 344.0 244.6 342.0 245.7 340.0 246.8 338.0 247.9 336.0 248.9 334.0 250.0 332.0 251.0 330.0 252.0 328.0 252.9 326.0 253.9 324.0 254.8 322.0 255.8 320.0 256.6 318.0 257.5 316.0 258.4 314.0 259.2 312.0 260.0 310.0 260.7 308.0 261.4 306.0 262.0 304.0 262.6 302.0 263.2 300.0 263.8 298.0 264.4 296.0 265.1 294.0 265.7 292.0 266.4 290.0 267.1 288.0 267.9 286.0 268.7 284.0 269.6 282.0 270.5 280.0 271.4 278.0 272.4 276.0 273.4 274.0 274.3 272.0 275.3 270.0 276.2 268.0 277.2 266.0 278.1 264.0 279.0 262.0 279.8 260.0 280.6 258.0 281.3 256.0 282.0 254.0 282.6 252.0 283.2 250.0 283.8 248.0 284.3 246.0 284.8 244.0 285.3 242.0 285.8 240.0 286.3 238.0 286.8 236.0 287.2 234.0 287.7 232.0 288.1 230.0 288.6 228.0 289.1 226.0 289.6 224.0 290.1 222.0 290.6 220.0 291.2 218.0 291.7 216.0 292.2 214.0 292.8 212.0 293.3 210.0 293.8 208.0 294.3 206.0 294.9 204.0 295.4 202.0 295.9 200.0 296.4 198.0 296.9 196.0 297.4 194.0 297.9 192.0 298.4 190.0 298.9 188.0 299.4 186.0 299.9 184.0 300.4 182.0 300.9 180.0 301.4 178.0 301.9 176.0 302.4 174.0 302.9 172.0 303.4 170.0 303.8 168.0 304.3 166.0 304.7 164.0 305.2 162.0 305.6 160.0 306.0 158.0 306.4 156.0 306.9 154.0 307.3 152.0 307.7 150.0 308.1 148.0 308.5 146.0 308.9 144.0 309.4 142.0 309.8 140.0 310.1 138.0 310.5 136.0 310.9 134.0 311.3 132.0 311.7 130.0 312.1 128.0 312.4 126.0 312.8 124.0 313.2 122.0 313.6 120.0 313.9 118.0 314.3 116.0 314.6 114.0 315.0 112.0 315.3 110.0 315.6 108.0 316.0 106.0 316.3 104.0 316.6 102.0 316.9 100.0 317.2 98.0 317.6 96.0 317.9 94.0 318.2 92.0 318.5 90.0 318.8 88.0 319.0 86.0 319.3 84.0 319.6 82.0 319.9 80.0 320.1 78.0 320.4 76.0 320.6 74.0 320.9 72.0 321.1 70.0 321.3 68.0 321.5 66.0 321.7 64.0 321.9 62.0 322.1 60.0 322.2 58.0 322.4 56.0" stroke="#ff0000" stroke-width="4.4" stroke-dasharray="6.2 1.75"/>
<path d="M94.8 437.2 96.8 437.0 98.8 436.8 100.8 436.5 102.8 436.2 104.8 435.9 106.8 435.6 108.8 435.3 110.8 435.0 112.8 434.6 114.8 434.3 116.8 433.9 118.8 433.4 120.8 433.0 122.8 432.5 124.8 432.0 126.8 431.5 128.8 430.9 130.8 430.3 132.8 429.6 134.8 429.0 136.8 428.3 138.8 427.5 140.8 426.7 142.8 425.9 144.8 425.0 146.8 424.1 148.8 423.2 150.8 422.2 152.8 421.1 154.8 420.0 156.8 418.9 158.8 417.6 160.8 416.4 162.8 415.1 164.8 413.7 166.8 412.3 168.8 410.8 170.8 409.3 172.8 407.7 174.8 406.0 176.0 405.0 178.2 403.0 180.3 401.0 182.3 399.0 184.3 397.0 186.2 395.0 188.0 393.0 189.8 391.0 191.6 389.0 193.4 387.0 195.2 385.0 196.9 383.0 198.5 381.0 200.1 379.0 201.7 377.0 203.2 375.0 204.6 373.0 205.9 371.0 207.1 369.0 208.3 367.0 209.5 365.0 210.6 363.0 211.7 361.0 212.7 359.0 213.7 357.0 214.7 355.0 215.7 353.0 216.6 351.0 217.5 349.0 218.4 347.0 219.3 345.0 220.2 343.0 221.1 341.0 221.9 339.0 222.8 337.0 223.6 335.0 224.4 333.0 225.3 331.0 226.1 329.0 226.9 327.0 227.8 325.0 228.6 323.0 229.5 321.0 230.4 319.0 231.3 317.0 232.3 315.0 233.3 313.0 234.3 311.0 235.4 309.0 236.6 307.0 237.8 305.0 238.9 303.0 240.0 301.0 240.9 299.0 241.8 297.0 242.6 295.0 243.3 293.0 244.1 291.0 244.8 289.0 245.4 287.0 246.1 285.0 246.8 283.0 247.4 281.0 248.1 279.0 248.7 277.0 249.3 275.0 250.0 273.0 250.7 271.0 251.3 269.0 252.0 267.0 252.7 265.0 253.3 263.0 254.0 261.0 254.6 259.0 255.3 257.0 255.9 255.0 256.6 253.0 257.2 251.0 257.9 249.0 258.5 247.0 259.2 245.0 259.8 243.0 260.4 241.0 261.1 239.0 261.7 237.0 262.3 235.0 262.9 233.0 263.5 231.0 264.1 229.0 264.7 227.0 265.3 225.0 265.9 223.0 266.4 221.0 267.0 219.0 267.6 217.0 268.1 215.0 268.6 213.0 269.2 211.0 269.7 209.0 270.2 207.0 270.8 205.0 271.2 203.0 271.7 201.0 272.2 199.0 272.6 197.0 273.0 195.0 273.4 193.0 273.8 191.0 274.2 189.0 274.6 187.0 274.9 185.0 275.3 183.0 275.7 181.0 276.1 179.0 276.4 177.0 276.8 175.0 277.2 173.0 277.6 171.0 278.0 169.0 278.4 167.0 278.9 165.0 279.3 163.0 279.8 161.0 280.2 159.0 280.7 157.0 281.2 155.0 281.6 153.0 282.1 151.0 282.6 149.0 283.1 147.0 283.6 145.0 284.1 143.0 284.5 141.0 285.0 139.0 285.5 137.0 285.9 135.0 286.4 133.0 286.9 131.0 287.3 129.0 287.8 127.0 288.2 125.0 288.6 123.0 289.1 121.0 289.5 119.0 289.9 117.0 290.2 115.0 290.6 113.0 291.0 111.0 291.3 109.0 291.7 107.0 292.0 105.0 292.3 103.0 292.7 101.0 293.0 99.0 293.3 97.0 293.6 95.0 293.9 93.0 294.2 91.0 294.6 89.0 294.9 87.0 295.2 85.0 295.5 83.0 295.8 81.0 296.2 79.0 296.5 77.0 296.9 75.0 297.2 73.0 297.6 71.0 297.9 69.0 298.3 67.0 298.7 65.0 299.1 63.0 299.5 61.0 299.9 59.0 300.3 57.0 300.7 55.0" stroke="#808080" stroke-width="4.4" stroke-dasharray="6.2 1.75"/>
</g>
<rect x="94.8" y="70.5" width="330.7" height="440.6" fill="none" stroke="#000" stroke-width="1"/>
<path d="M94.80 511.10v-6 M94.80 70.50v6 M127.87 511.10v-3 M127.87 70.50v3 M160.94 511.10v-6 M160.94 70.50v6 M194.01 511.10v-3 M194.01 70.50v3 M227.08 511.10v-6 M227.08 70.50v6 M260.15 511.10v-3 M260.15 70.50v3 M293.22 511.10v-6 M293.22 70.50v6 M326.29 511.10v-3 M326.29 70.50v3 M359.36 511.10v-6 M359.36 70.50v6 M392.43 511.10v-3 M392.43 70.50v3 M425.50 511.10v-6 M425.50 70.50v6 M94.80 511.10h6 M425.50 511.10h-6 M94.80 474.38h3 M425.50 474.38h-3 M94.80 437.67h6 M425.50 437.67h-6 M94.80 400.95h3 M425.50 400.95h-3 M94.80 364.23h6 M425.50 364.23h-6 M94.80 327.52h3 M425.50 327.52h-3 M94.80 290.80h6 M425.50 290.80h-6 M94.80 254.08h3 M425.50 254.08h-3 M94.80 217.37h6 M425.50 217.37h-6 M94.80 180.65h3 M425.50 180.65h-3 M94.80 143.93h6 M425.50 143.93h-6 M94.80 107.22h3 M425.50 107.22h-3 M94.80 70.50h6 M425.50 70.50h-6" stroke="#000" stroke-width="1" fill="none"/>
<g opacity="0.999">
<text x="95.0" y="532.1" font-size="16" text-anchor="middle">0.0</text>
<text x="161.1" y="532.1" font-size="16" text-anchor="middle">0.2</text>
<text x="227.3" y="532.1" font-size="16" text-anchor="middle">0.4</text>
<text x="293.4" y="532.1" font-size="16" text-anchor="middle">0.6</text>
<text x="359.6" y="532.1" font-size="16" text-anchor="middle">0.8</text>
<text x="425.7" y="532.1" font-size="16" text-anchor="middle">1.0</text>
<text x="84.8" y="516.4" font-size="16" text-anchor="end">-5</text>
<text x="84.8" y="443.0" font-size="16" text-anchor="end">0</text>
<text x="84.8" y="369.5" font-size="16" text-anchor="end">5</text>
<text x="84.8" y="296.1" font-size="16" text-anchor="end">10</text>
<text x="84.8" y="222.7" font-size="16" text-anchor="end">15</text>
<text x="84.8" y="149.2" font-size="16" text-anchor="end">20</text>
<text x="84.8" y="75.8" font-size="16" text-anchor="end">25</text>
<text x="237.5" y="561.8" font-size="20.5" font-style="italic" textLength="10.2" lengthAdjust="spacingAndGlyphs">λ</text>
<path d="M248.4 566.6L255.4 546.2" stroke="#000" stroke-width="1.15" fill="none"/>
<text x="257.3" y="561.8" font-size="20.8" textLength="13.6" lengthAdjust="spacingAndGlyphs">N</text>
<text x="271.7" y="565.6" font-size="14">c</text>
<text x="278.0" y="550.7" font-size="11.5">2</text>
<text transform="translate(54.9,320.3) rotate(-90)" font-size="20.5" textLength="24.2" lengthAdjust="spacingAndGlyphs">log</text>
<text transform="translate(58.4,295.2) rotate(-90)" font-size="13.5">2</text>
<text transform="translate(54.9,288.4) rotate(-90)" font-size="20.5">(</text>
<text transform="translate(54.9,281.2) rotate(-90)" font-size="20.5">Z</text>
<text transform="translate(54.9,269.5) rotate(-90)" font-size="20.5">)</text>
<text x="120.6" y="100.2" font-size="16.3" textLength="127.7" lengthAdjust="spacingAndGlyphs">Numeric: Solid line</text>
<text x="120.6" y="119.7" font-size="16.3" textLength="139.4" lengthAdjust="spacingAndGlyphs">Asympt: Dashed line</text>
<text x="120.6" y="139.1" font-size="16.3" textLength="114.9" lengthAdjust="spacingAndGlyphs">GSP: Dotted line</text>
<text x="120.6" y="158.6" font-size="16.3" textLength="128.4" lengthAdjust="spacingAndGlyphs">Asympt: Low-lying</text>
<rect x="313.5" y="405.5" width="112" height="105.6" fill="#fff" stroke="#000" stroke-width="1"/>
<path d="M324.4 423.2H359.8" stroke="#000000" stroke-width="2" fill="none"/>
<text x="369.3" y="429.6" font-size="19" textLength="13.2" lengthAdjust="spacingAndGlyphs">N</text>
<text x="383.9" y="433.6" font-size="13.5">c</text>
<text x="390.5" y="429.6" font-size="19" textLength="13.3" lengthAdjust="spacingAndGlyphs">=</text>
<text x="405" y="429.6" font-size="19">2</text>
<path d="M324.4 446.7H359.8" stroke="#0000ff" stroke-width="2" fill="none"/>
<text x="369.3" y="453.1" font-size="19" textLength="13.2" lengthAdjust="spacingAndGlyphs">N</text>
<text x="383.9" y="457.1" font-size="13.5">c</text>
<text x="390.5" y="453.1" font-size="19" textLength="13.3" lengthAdjust="spacingAndGlyphs">=</text>
<text x="405" y="453.1" font-size="19">3</text>
<path d="M324.4 470.2H359.8" stroke="#ff0000" stroke-width="2" fill="none"/>
<text x="369.3" y="476.6" font-size="19" textLength="13.2" lengthAdjust="spacingAndGlyphs">N</text>
<text x="383.9" y="480.6" font-size="13.5">c</text>
<text x="390.5" y="476.6" font-size="19" textLength="13.3" lengthAdjust="spacingAndGlyphs">=</text>
<text x="405" y="476.6" font-size="19">4</text>
<path d="M324.4 493.7H359.8" stroke="#808080" stroke-width="2" fill="none"/>
<text x="369.3" y="500.1" font-size="19" textLength="13.2" lengthAdjust="spacingAndGlyphs">N</text>
<text x="383.9" y="504.1" font-size="13.5">c</text>
<text x="390.5" y="500.1" font-size="19" textLength="13.3" lengthAdjust="spacingAndGlyphs">=</text>
<text x="405" y="500.1" font-size="19">5</text>
</g>
</svg></body></html>
